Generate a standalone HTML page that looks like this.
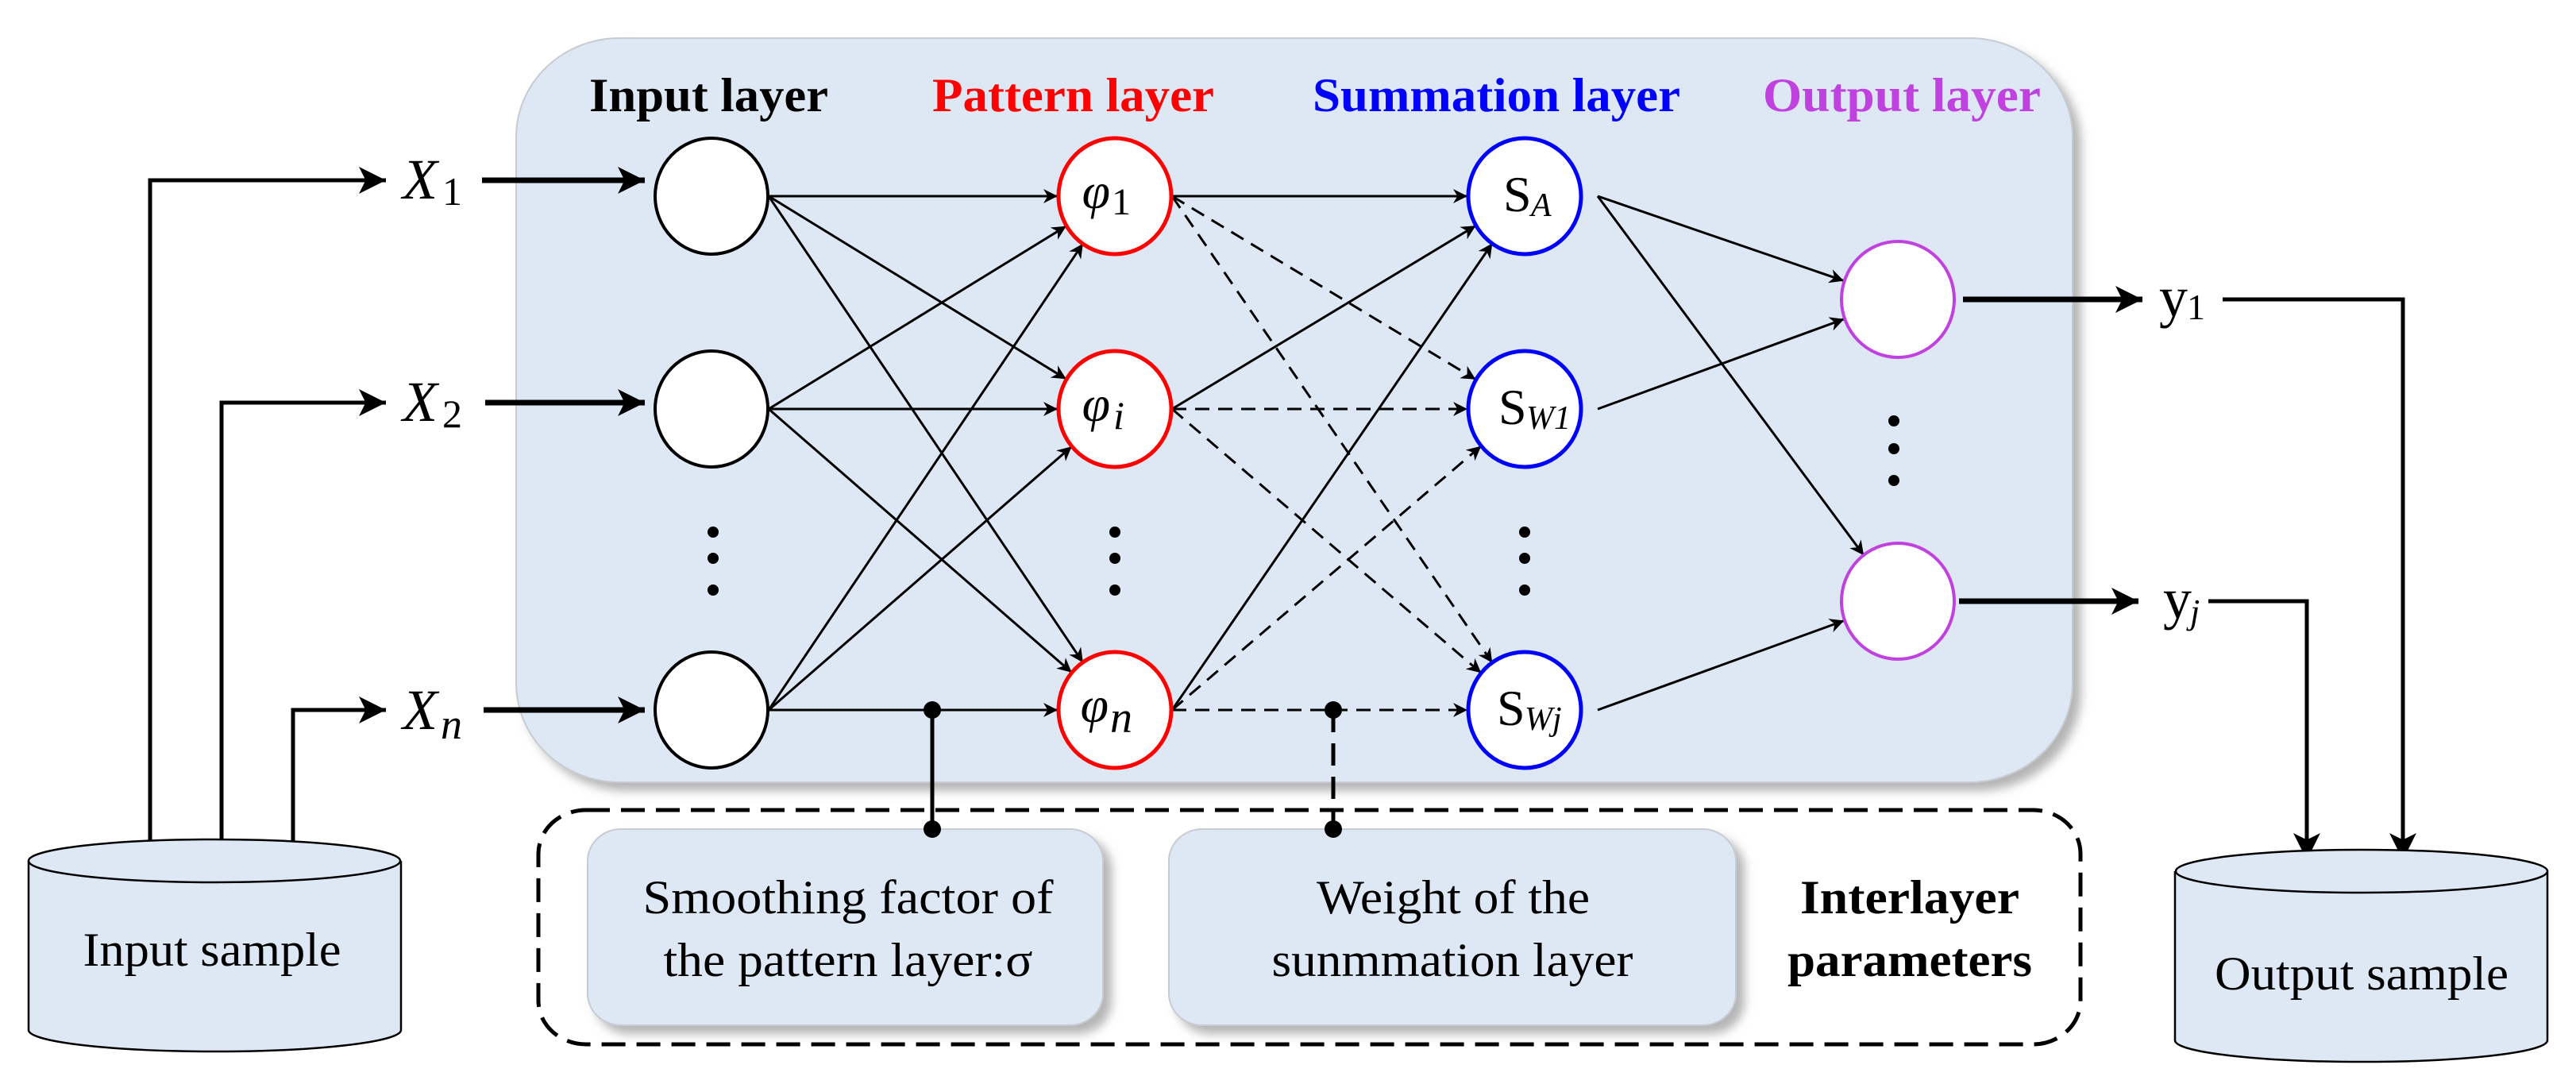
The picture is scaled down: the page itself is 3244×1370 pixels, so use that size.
<!DOCTYPE html>
<html><head><meta charset="utf-8"><style>
html,body{margin:0;padding:0;background:#fff;}
svg{display:block;font-family:"Liberation Serif","Times New Roman",serif;}
svg text{font-family:"Liberation Serif","Times New Roman",serif;}
</style></head><body>
<svg width="3244" height="1370" viewBox="0 0 3244 1370" xmlns="http://www.w3.org/2000/svg" font-family="Liberation Serif, Times New Roman, serif">
<defs>
<marker id="a" viewBox="0 0 10 10" refX="10" refY="5" markerWidth="22" markerHeight="18" markerUnits="userSpaceOnUse" orient="auto"><path d="M0,0 L10,5 L0,10 L3,5 z" fill="#000"/></marker>
<marker id="c" viewBox="0 0 10 10" refX="10" refY="5" markerWidth="34" markerHeight="34" markerUnits="userSpaceOnUse" orient="auto"><path d="M0,0 L10,5 L0,10 L2.5,5 z" fill="#000"/></marker>
<filter id="sh" x="-5%" y="-5%" width="115%" height="120%"><feDropShadow dx="10" dy="10" stdDeviation="6" flood-color="#777" flood-opacity="0.55"/></filter>
</defs>

<rect x="650" y="48" width="1960" height="937" rx="130" ry="125" fill="#dee8f4" stroke="#c8ccd2" stroke-width="2" filter="url(#sh)"/>

<g font-weight="bold" font-size="60">
<text x="742" y="140" textLength="301" lengthAdjust="spacingAndGlyphs">Input layer</text>
<text x="1174" y="140" fill="#f00" textLength="355" lengthAdjust="spacingAndGlyphs">Pattern layer</text>
<text x="1653" y="140" fill="#00f" textLength="463" lengthAdjust="spacingAndGlyphs">Summation layer</text>
<text x="2220" y="140" fill="#c040e0" textLength="350" lengthAdjust="spacingAndGlyphs">Output layer</text>
</g>

<g stroke="#000" stroke-width="3" fill="none" marker-end="url(#a)">
<line x1="968" y1="247" x2="1332" y2="247"/>
<line x1="968" y1="247" x2="1342.7" y2="477.3"/>
<line x1="968" y1="247" x2="1363.8" y2="834.3"/>
<line x1="968" y1="515" x2="1342.7" y2="284.7"/>
<line x1="968" y1="515" x2="1332" y2="515"/>
<line x1="968" y1="515" x2="1349.6" y2="846.8"/>
<line x1="968" y1="894" x2="1363.8" y2="306.7"/>
<line x1="968" y1="894" x2="1349.6" y2="562.2"/>
<line x1="968" y1="894" x2="1332" y2="894"/>
</g>
<g stroke="#000" stroke-width="3" fill="none" marker-end="url(#a)">
<line x1="1476" y1="247" x2="1848" y2="247"/>
<line x1="1476" y1="515" x2="1858.4" y2="284.2"/>
<line x1="1476" y1="894" x2="1879.3" y2="306.4"/>
</g>
<g stroke="#000" stroke-width="3" fill="none" stroke-dasharray="18,11" marker-end="url(#a)">
<line x1="1476" y1="247" x2="1858.4" y2="477.8"/>
<line x1="1476" y1="247" x2="1879.3" y2="834.6"/>
<line x1="1476" y1="515" x2="1848" y2="515"/>
<line x1="1476" y1="515" x2="1865.2" y2="847.3"/>
<line x1="1476" y1="894" x2="1865.2" y2="561.7"/>
<line x1="1476" y1="894" x2="1848" y2="894"/>
</g>
<g stroke="#000" stroke-width="3" fill="none" marker-end="url(#a)">
<line x1="2012" y1="247" x2="2321.9" y2="353.6"/>
<line x1="2012" y1="247" x2="2347.1" y2="699.2"/>
<line x1="2012" y1="515" x2="2322.4" y2="401.7"/>
<line x1="2012" y1="894" x2="2322.3" y2="781.5"/>
</g>

<g fill="#fff" stroke-width="4">
<ellipse cx="896" cy="247" rx="71" ry="73" stroke="#000"/>
<ellipse cx="896" cy="515" rx="71" ry="73" stroke="#000"/>
<ellipse cx="896" cy="894" rx="71" ry="73" stroke="#000"/>
<ellipse cx="1404" cy="247" rx="71" ry="73" stroke="#f00" stroke-width="5"/>
<ellipse cx="1404" cy="515" rx="71" ry="73" stroke="#f00" stroke-width="5"/>
<ellipse cx="1404" cy="894" rx="71" ry="73" stroke="#f00" stroke-width="5"/>
<ellipse cx="1920" cy="247" rx="71" ry="73" stroke="#00f" stroke-width="5"/>
<ellipse cx="1920" cy="515" rx="71" ry="73" stroke="#00f" stroke-width="5"/>
<ellipse cx="1920" cy="894" rx="71" ry="73" stroke="#00f" stroke-width="5"/>
<ellipse cx="2390" cy="377" rx="71" ry="73" stroke="#c040e0"/>
<ellipse cx="2390" cy="757" rx="71" ry="73" stroke="#c040e0"/>
</g>

<g font-size="64">
<text x="1398" y="262" font-style="italic" text-anchor="end">φ</text><text x="1400" y="270" font-size="48">1</text>
<text x="1398" y="530" font-style="italic" text-anchor="end">φ</text><text x="1402" y="540" font-size="50" font-style="italic">i</text>
<text x="1396" y="909" font-style="italic" text-anchor="end">φ</text><text x="1398" y="922" font-size="56" font-style="italic">n</text>
<text x="1893" y="266">S</text><text x="1928" y="272" font-size="42" font-style="italic">A</text>
<text x="1887" y="534">S</text><text x="1922" y="540" font-size="42" font-style="italic">W1</text>
<text x="1885" y="913">S</text><text x="1920" y="919" font-size="42" font-style="italic">Wj</text>
</g>

<g fill="#000">
<circle cx="898" cy="670" r="7"/><circle cx="898" cy="703" r="7"/><circle cx="898" cy="743" r="7"/>
<circle cx="1404" cy="670" r="7"/><circle cx="1404" cy="703" r="7"/><circle cx="1404" cy="743" r="7"/>
<circle cx="1920" cy="670" r="7"/><circle cx="1920" cy="703" r="7"/><circle cx="1920" cy="743" r="7"/>
<circle cx="2385" cy="530" r="7"/><circle cx="2385" cy="565" r="7"/><circle cx="2385" cy="605" r="7"/>
</g>

<g font-size="72" font-style="italic">
<text x="507" y="250">X</text><text x="557" y="258" font-size="50" font-style="normal">1</text>
<text x="507" y="530">X</text><text x="557" y="538" font-size="50" font-style="normal">2</text>
<text x="507" y="918">X</text><text x="555" y="930" font-size="54">n</text>
</g>

<g stroke="#000" stroke-width="7" fill="none" marker-end="url(#c)">
<line x1="607" y1="227" x2="812" y2="227"/>
<line x1="611" y1="507" x2="812" y2="507"/>
<line x1="609" y1="894" x2="812" y2="894"/>
<line x1="2472" y1="377" x2="2698" y2="377"/>
<line x1="2467" y1="757" x2="2693" y2="757"/>
</g>
<g stroke="#000" stroke-width="5" fill="none" marker-end="url(#c)">
<polyline points="189,1086 189,227 486,227"/>
<polyline points="279,1086 279,507 486,507"/>
<polyline points="369,1086 369,894 486,894"/>
<polyline points="2799,377 3026,377 3026,1083"/>
<polyline points="2781,757 2905,757 2905,1083"/>
</g>

<text x="2719" y="398" font-size="72">y</text><text x="2754" y="402" font-size="46">1</text>
<text x="2724" y="778" font-size="72">y</text><text x="2758" y="785" font-size="44" font-style="italic">j</text>

<path d="M36,1084 L36,1297 A234,27 0 0 0 505,1297 L505,1084" fill="#dee8f4" stroke="#000" stroke-width="2.5"/>
<ellipse cx="270" cy="1084" rx="234" ry="27" fill="#dee8f4" stroke="#000" stroke-width="2.5"/>
<text x="267" y="1216" font-size="60" text-anchor="middle" textLength="325" lengthAdjust="spacingAndGlyphs">Input sample</text>
<path d="M2739,1097 L2739,1310 A234,27 0 0 0 3208,1310 L3208,1097" fill="#dee8f4" stroke="#000" stroke-width="2.5"/>
<ellipse cx="2974" cy="1097" rx="234" ry="27" fill="#dee8f4" stroke="#000" stroke-width="2.5"/>
<text x="2974" y="1246" font-size="60" text-anchor="middle" textLength="370" lengthAdjust="spacingAndGlyphs">Output sample</text>

<rect x="678" y="1020" width="1942" height="295" rx="60" ry="55" fill="none" stroke="#000" stroke-width="5" stroke-dasharray="30,14"/>
<rect x="740" y="1044" width="649" height="247" rx="42" ry="40" fill="#dee8f4" stroke="#c8ccd2" stroke-width="2" filter="url(#sh)"/>
<rect x="1472" y="1044" width="714" height="247" rx="42" ry="40" fill="#dee8f4" stroke="#c8ccd2" stroke-width="2" filter="url(#sh)"/>
<g font-size="60" text-anchor="middle">
<text x="1068" y="1150" textLength="517" lengthAdjust="spacingAndGlyphs">Smoothing factor of</text>
<text x="1068" y="1229" textLength="465" lengthAdjust="spacingAndGlyphs">the pattern layer:σ</text>
<text x="1830" y="1150" textLength="344" lengthAdjust="spacingAndGlyphs">Weight of the</text>
<text x="1829" y="1229" textLength="455" lengthAdjust="spacingAndGlyphs">sunmmation layer</text>
<text x="2405" y="1150" font-weight="bold" textLength="276" lengthAdjust="spacingAndGlyphs">Interlayer</text>
<text x="2405" y="1229" font-weight="bold" textLength="308" lengthAdjust="spacingAndGlyphs">parameters</text>
</g>

<line x1="1174" y1="894" x2="1174" y2="1044" stroke="#000" stroke-width="5"/>
<circle cx="1174" cy="894" r="11" fill="#000"/><circle cx="1174" cy="1044" r="11" fill="#000"/>
<line x1="1679" y1="894" x2="1679" y2="1044" stroke="#000" stroke-width="5" stroke-dasharray="28,14"/>
<circle cx="1679" cy="894" r="11" fill="#000"/><circle cx="1679" cy="1044" r="11" fill="#000"/>
</svg>
</body></html>
